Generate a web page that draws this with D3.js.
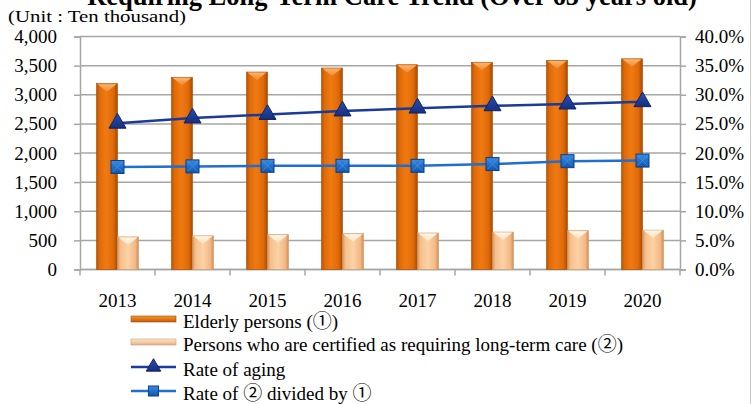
<!DOCTYPE html>
<html><head><meta charset="utf-8">
<script src="https://cdn.jsdelivr.net/npm/d3@7"></script>
<style>
html,body{margin:0;padding:0;background:#fff;}
svg{display:block;}
text{font-family:"Liberation Serif","Noto Sans CJK JP",serif;fill:#000;}
</style></head>
<body>
<svg id="c" width="754" height="404"></svg>
<script>
const years = ["2013","2014","2015","2016","2017","2018","2019","2020"];
const elderly = [3190, 3300, 3390, 3459, 3515, 3558, 3589, 3617];
const certified = [560, 578, 598, 615, 627, 643, 666, 676];
const agingRate = [0.251, 0.260, 0.266, 0.272, 0.277, 0.281, 0.284, 0.288];
const certRate = [0.176, 0.177, 0.178, 0.178, 0.178, 0.181, 0.186, 0.187];
const leftTicks = [0, 500, 1000, 1500, 2000, 2500, 3000, 3500, 4000];
const rightTicks = [0, 0.05, 0.10, 0.15, 0.20, 0.25, 0.30, 0.35, 0.40];
const titleText = "Requiring Long-Term Care Trend (Over 65 years old)";
const unitText = "(Unit : Ten thousand)";
const legendLabels = ["Elderly persons (\u2460)", "Persons who are certified as requiring long-term care (\u2461)", "Rate of aging", "Rate of \u2461 divided by \u2460"];

const svg = d3.select("#c");
const L = 80, R = 680, T = 36.5, B = 269.5;
const x = d3.scaleBand().domain(years).range([L, R]).paddingInner(0.44).paddingOuter(0.22);
const xs = d3.scaleBand().domain(["e","c"]).range([0, x.bandwidth()]);
const y = d3.scaleLinear().domain([0, 4000]).range([B, T]);
const y2 = d3.scaleLinear().domain([0, 0.4]).range([B, T]);

const defs = svg.append("defs");
function hgrad(id, stops){
  const g = defs.append("linearGradient").attr("id", id).attr("x1","0").attr("x2","1").attr("y1","0").attr("y2","0");
  stops.forEach(s => g.append("stop").attr("offset", s[0]).attr("stop-color", s[1]));
}
hgrad("gOr", [[0,"#b85400"],[0.15,"#e06a08"],[0.45,"#f07a12"],[0.8,"#e06a08"],[1,"#a84a00"]]);
hgrad("gLt", [[0,"#d89660"],[0.15,"#f6c08c"],[0.5,"#fcd2a6"],[0.85,"#f3b884"],[1,"#d08c58"]]);
const vg = (id, a, b) => { const g = defs.append("linearGradient").attr("id", id).attr("x1","0").attr("x2","0").attr("y1","0").attr("y2","1");
  g.append("stop").attr("offset",0).attr("stop-color",a); g.append("stop").attr("offset",1).attr("stop-color",b); };
vg("gOrTop", "#fbb470", "#f08a30");
vg("gLtTop", "#fff6e6", "#fde3c4");
vg("gLtLeg", "#fde9d2", "#e8b07c");
vg("gOrL", "#f5962e", "#c45c05");
vg("gSq", "#3a8ae0", "#0e56b0");
vg("gTri", "#2a4fb0", "#162f80");

// right outer border
svg.append("line").attr("x1",750.5).attr("x2",750.5).attr("y1",0).attr("y2",404).attr("stroke","#c8c8c8").attr("stroke-width",1);

// gridlines
svg.append("g").selectAll("line").data(leftTicks).join("line")
  .attr("x1", L).attr("x2", R).attr("y1", d => y(d)).attr("y2", d => y(d))
  .attr("stroke", "#a6a6a6").attr("stroke-width", 1.5);

// axes
const gl = svg.append("g").attr("transform", `translate(${L},0)`)
  .call(d3.axisLeft(y).tickValues(leftTicks).tickFormat(d3.format(",")).tickSize(6).tickPadding(17));
const gr = svg.append("g").attr("transform", `translate(${R},0)`)
  .call(d3.axisRight(y2).tickValues(rightTicks).tickFormat(d3.format(".1%")).tickSize(6).tickPadding(9));
const gb = svg.append("g").attr("transform", `translate(0,${B})`)
  .call(d3.axisBottom(x).tickSize(0).tickPadding(24));
[gl, gr, gb].forEach(g => {
  g.selectAll(".domain").attr("stroke", "#a6a6a6").attr("stroke-width", 1.5);
  g.selectAll(".tick line").attr("stroke", "#a6a6a6").attr("stroke-width", 1.5);
  g.selectAll("text").attr("font-size", 19).attr("font-family", "Liberation Serif").attr("fill", "#000");
});
gb.select(".domain").remove();
svg.append("g").selectAll("line").data(d3.range(years.length + 1)).join("line")
  .attr("x1", i => L + i * x.step()).attr("x2", i => L + i * x.step())
  .attr("y1", B).attr("y2", B + 6).attr("stroke", "#a6a6a6").attr("stroke-width", 1.5);
svg.append("line").attr("x1", L).attr("x2", R).attr("y1", B).attr("y2", B).attr("stroke", "#a6a6a6").attr("stroke-width", 1.5);

// bars
const bw = xs.bandwidth();
function drawBars(vals, key, fill, top, stroke){
  const g = svg.append("g");
  g.selectAll("rect").data(vals).join("rect")
    .attr("x", (d,i) => x(years[i]) + xs(key)).attr("width", bw)
    .attr("y", d => y(d)).attr("height", d => B - y(d))
    .attr("fill", fill).attr("stroke", stroke).attr("stroke-width", 0.6);
  g.selectAll("path").data(vals).join("path")
    .attr("d", (d,i) => { const x0 = x(years[i]) + xs(key), y0 = y(d);
      return `M${x0+1},${y0+0.5} L${x0+bw-1},${y0+0.5} L${x0+bw/2},${y0+8} Z`; })
    .attr("fill", top);
}
drawBars(elderly, "e", "url(#gOr)", "url(#gOrTop)", "#a84a00");
drawBars(certified, "c", "url(#gLt)", "url(#gLtTop)", "#cf9a6a");

// lines
const cx = (i) => x(years[i]) + x.bandwidth()/2;
const line1 = d3.line().x((d,i) => cx(i)).y(d => y2(d));
svg.append("path").datum(agingRate).attr("d", line1).attr("fill","none").attr("stroke","#1a3a9c").attr("stroke-width",2.5);
svg.append("path").datum(certRate).attr("d", line1).attr("fill","none").attr("stroke","#1f6fd0").attr("stroke-width",2.5);

const tri = d3.symbol(d3.symbolTriangle, 125);
svg.append("g").selectAll("path").data(agingRate).join("path")
  .attr("d", tri).attr("transform", (d,i) => `translate(${cx(i)},${y2(d)})`)
  .attr("fill", "url(#gTri)").attr("stroke", "#0f2466").attr("stroke-width", 1);

const sq = 13;
const sqG = svg.append("g").selectAll("g").data(certRate).join("g")
  .attr("transform", (d,i) => `translate(${cx(i)},${y2(d)})`);
sqG.append("rect").attr("x", -sq/2).attr("y", -sq/2).attr("width", sq).attr("height", sq)
  .attr("fill", "url(#gSq)").attr("stroke", "#0b3f8a").attr("stroke-width", 1);
sqG.append("path").attr("d", `M${-sq/2+1.5},${-sq/2+1.5} L${sq/2-1.5},${sq/2-1.5} M${sq/2-1.5},${-sq/2+1.5} L${-sq/2+1.5},${sq/2-1.5}`)
  .attr("stroke", "#5aa2ee").attr("stroke-width", 0.8).attr("opacity", 0.7);

// title & unit
svg.append("text").attr("x", 392).attr("y", 5).attr("text-anchor", "middle")
  .attr("font-size", 26.5).attr("font-weight", "bold").text(titleText);
svg.append("text").attr("x", 8).attr("y", 22).attr("font-size", 17)
  .attr("textLength", 178).attr("lengthAdjust", "spacingAndGlyphs").text(unitText);

// legend
const lx0 = 131, lx1 = 176, tx = 183;
const rowsY = [319, 342, 367, 391];
const lg = svg.append("g");
lg.append("rect").attr("x", lx0).attr("y", rowsY[0]-3).attr("width", lx1-lx0).attr("height", 6)
  .attr("fill", "url(#gOrL)").attr("stroke", "#a84a00").attr("stroke-width", 0.6);
lg.append("rect").attr("x", lx0).attr("y", rowsY[1]-3).attr("width", lx1-lx0).attr("height", 6)
  .attr("fill", "url(#gLtLeg)").attr("stroke", "#cf9a6a").attr("stroke-width", 0.6);
lg.append("line").attr("x1", lx0).attr("x2", lx1).attr("y1", rowsY[2]).attr("y2", rowsY[2]).attr("stroke","#1a3a9c").attr("stroke-width",2.5);
lg.append("path").attr("d", d3.symbol(d3.symbolTriangle, 90)).attr("transform", `translate(${(lx0+lx1)/2},${rowsY[2]})`)
  .attr("fill", "url(#gTri)").attr("stroke", "#0f2466").attr("stroke-width", 1);
lg.append("line").attr("x1", lx0).attr("x2", lx1).attr("y1", rowsY[3]).attr("y2", rowsY[3]).attr("stroke","#1f6fd0").attr("stroke-width",2.5);
lg.append("rect").attr("x", (lx0+lx1)/2-5).attr("y", rowsY[3]-5).attr("width", 10).attr("height", 10)
  .attr("fill", "url(#gSq)").attr("stroke", "#0b3f8a").attr("stroke-width", 1);
lg.selectAll("text").data(legendLabels).join("text")
  .attr("x", tx).attr("y", (d,i) => rowsY[i] + 3).attr("dy", "0.32em").attr("font-size", 19).text(d => d);
</script>
</body></html>
